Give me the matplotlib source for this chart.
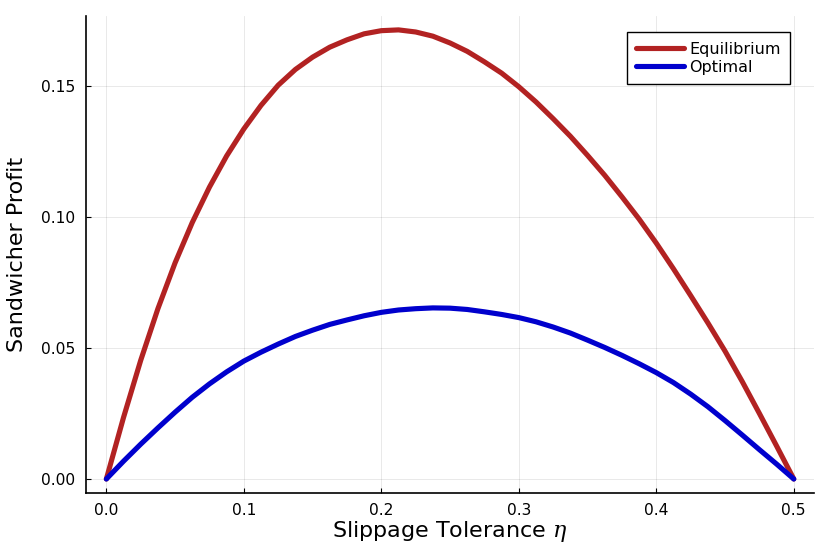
import matplotlib
matplotlib.use("Agg")
import matplotlib.pyplot as plt

# values
eta = [0.0, 0.0125, 0.025, 0.0375, 0.05, 0.0625, 0.075, 0.0875, 0.1, 0.1125,
       0.125, 0.1375, 0.15, 0.1625, 0.175, 0.1875, 0.2, 0.2125, 0.225, 0.2375,
       0.25, 0.2625, 0.275, 0.2875, 0.3, 0.3125, 0.325, 0.3375, 0.35, 0.3625,
       0.375, 0.3875, 0.4, 0.4125, 0.425, 0.4375, 0.45, 0.4625, 0.475, 0.4875,
       0.5]
equilibrium = [0.0, 0.0235, 0.0453, 0.0650, 0.0825, 0.0979, 0.1114, 0.1233, 0.1336, 0.1426,
               0.1503, 0.1563, 0.1610, 0.1648, 0.1676, 0.1699, 0.1711, 0.1714, 0.1706, 0.1690,
               0.1664, 0.1632, 0.1592, 0.1549, 0.1497, 0.1439, 0.1375, 0.1308, 0.1235, 0.1159,
               0.1077, 0.0992, 0.0900, 0.0802, 0.0700, 0.0596, 0.0488, 0.0372, 0.0250, 0.0126,
               0.0]
optimal = [0.0, 0.0068, 0.0133, 0.0195, 0.0255, 0.0312, 0.0363, 0.0409, 0.0450, 0.0484,
           0.0515, 0.0544, 0.0568, 0.0590, 0.0607, 0.0623, 0.0636, 0.0645, 0.0650, 0.0653,
           0.0652, 0.0647, 0.0638, 0.0628, 0.0616, 0.0600, 0.0580, 0.0557, 0.0530, 0.0502,
           0.0472, 0.0440, 0.0406, 0.0368, 0.0324, 0.0276, 0.0223, 0.0168, 0.0112, 0.0057,
           0.0]

xticks = [0.0, 0.1, 0.2, 0.3, 0.4, 0.5]
yticks = [0.0, 0.05, 0.10, 0.15]

plt.rcParams['font.family'] = ['DejaVu Sans']
plt.rcParams['mathtext.fontset'] = 'dejavuserif'

fig = plt.figure(figsize=(8.3, 5.54), dpi=100)
ax = fig.add_axes([86/830, 1-493/554, (814-86)/830, (493-16)/554])

ax.plot(eta, equilibrium, color="#B22222", lw=3.7, label="Equilibrium",
        solid_capstyle="round", solid_joinstyle="round")
ax.plot(eta, optimal, color="#0000CD", lw=3.7, label="Optimal",
        solid_capstyle="round", solid_joinstyle="round")

ax.set_xlim(-0.0148, 0.5147)
ax.set_ylim(-0.00534, 0.1767)
ax.set_xticks(xticks)
ax.set_xticklabels(["%.1f" % t for t in xticks])
ax.set_yticks(yticks)
ax.set_yticklabels(["%.2f" % t for t in yticks])
ax.tick_params(direction="in", length=3.3, width=0.8, labelsize=11.2, color="black", pad=7.5)
ax.grid(True, color="black", alpha=0.1, lw=0.6)

for s in ["top", "right"]:
    ax.spines[s].set_visible(False)
for s in ["left", "bottom"]:
    ax.spines[s].set_linewidth(1.2)

ax.set_xlabel("Slippage Tolerance $\\eta$", fontsize=16, labelpad=0.5)
ax.set_ylabel("Sandwicher Profit", fontsize=16, labelpad=10)

leg = ax.legend(loc="upper right", bbox_to_anchor=(790/830, 1-32/554),
                bbox_transform=fig.transFigure, borderaxespad=0, fontsize=11.5,
                fancybox=False, edgecolor="black", framealpha=1,
                handlelength=3.0, handletextpad=0.3, borderpad=0.6, labelspacing=0.2)
leg.get_frame().set_linewidth(1.0)

fig.savefig("out.png", dpi=100)
